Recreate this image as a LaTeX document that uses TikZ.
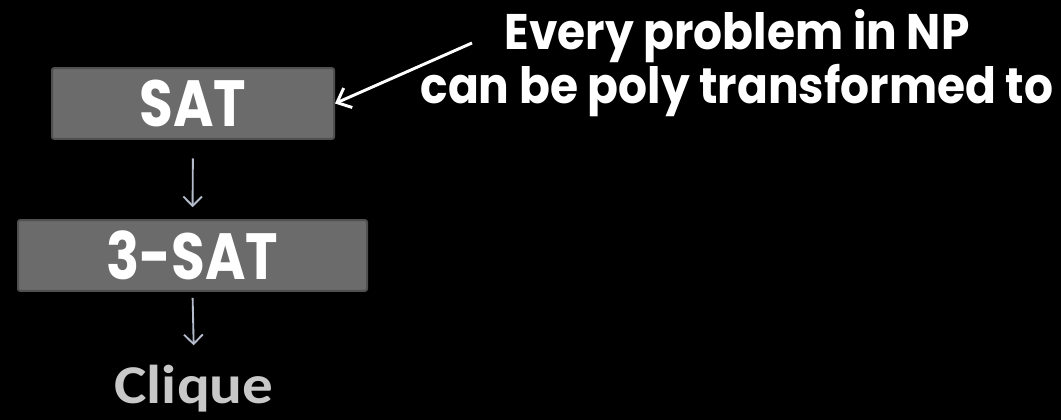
\documentclass[tikz,border=0pt]{standalone}
\usepackage{fontspec}
\setmainfont{Poppins}
\newfontfamily\notefont[FakeStretch=0.91]{Poppins}
\newfontfamily\boxfont[FakeStretch=0.84]{Poppins}
\newfontfamily\cliquefont[FakeStretch=1.12]{Carlito}
\usetikzlibrary{arrows.meta,positioning}
\definecolor{clBox}{HTML}{6B6B6B}
\definecolor{clBoxEdge}{HTML}{505050}
\definecolor{clArrow}{HTML}{B4BCCB}
\definecolor{clClique}{HTML}{C8C8C8}
\tikzset{
  problem/.style={rectangle, rounded corners=1.5pt, draw=clBoxEdge, line width=1.5pt,
                  fill=clBox, text=white, inner sep=0pt, minimum height=53pt,
                  font=\boxfont\bfseries\fontsize{49}{49}\selectfont},
  reduce/.style={-{Straight Barb[length=7pt, width=14pt]}, draw=clArrow, line width=1.4pt},
  pointer/.style={-{Straight Barb[length=9pt, width=16pt]}, draw=white, line width=2.2pt},
  notetext/.style={text=white, align=center,
                   font=\notefont\bfseries\fontsize{37.5}{33.75}\selectfont},
}
\begin{document}
\begin{tikzpicture}[x=0.75pt, y=-0.75pt]
  \useasboundingbox (0,0) rectangle (1061,420);
  \fill[black] (0,0) rectangle (1061,420);
  \node[problem, minimum width=211.5pt] (sat) at (193,103.5) {SAT};
  \node[problem, minimum width=261.75pt] (threesat) at (192.5,255.5) {3-SAT};
  \node[text=clClique, anchor=base, font=\cliquefont\bfseries\fontsize{41}{41}\selectfont] (clique) at (194,403) {Clique};
  \node[notetext] (note) at (737,63) {Every problem in NP\\can be poly transformed to};
  \coordinate (tail) at (472,43);
  \draw[reduce, shorten <=14pt, shorten >=9pt] (sat.south) -- (threesat.north);
  \draw[reduce, shorten <=4.5pt, shorten >=11pt] (threesat.south) -- (clique.north);
  \draw[pointer] (tail) -- (sat.east);
\end{tikzpicture}
\end{document}
